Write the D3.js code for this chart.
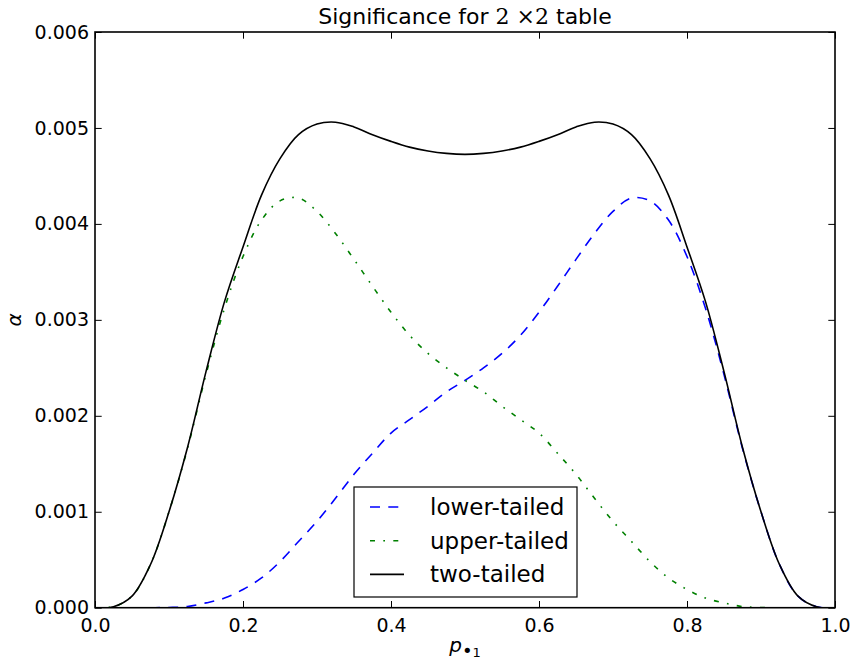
<!DOCTYPE html>
<html>
<head>
<meta charset="utf-8">
<script src="https://cdn.jsdelivr.net/npm/d3@7"></script>
<style>
  body { margin: 0; background: #fff; }
  svg { display: block; }
  text { font-family: "DejaVu Sans", sans-serif; fill: #000; }
</style>
</head>
<body>
<div id="chart"></div>
<script>
// datos (alfa en unidades de 1e-3)
var pValues = [0, 0.025, 0.05, 0.075, 0.1, 0.125, 0.15, 0.175, 0.2, 0.225,
  0.25, 0.275, 0.3, 0.325, 0.35, 0.375, 0.4, 0.425, 0.45, 0.475,
  0.5, 0.525, 0.55, 0.575, 0.6, 0.625, 0.65, 0.675, 0.7, 0.725,
  0.75, 0.775, 0.8, 0.825, 0.85, 0.875, 0.9, 0.925, 0.95, 0.975, 1];

var upperTailed = [0, 0.01, 0.12, 0.45, 1.00, 1.66, 2.43, 3.12, 3.66, 4.04,
  4.24, 4.27, 4.13, 3.90, 3.63, 3.35, 3.08, 2.84, 2.65, 2.50,
  2.37, 2.25, 2.10, 1.96, 1.82, 1.61, 1.39, 1.14, 0.90, 0.69,
  0.48, 0.31, 0.19, 0.10, 0.05, 0.012, 0.002, 0, 0, 0, 0];

var lowerTailed = [0, 0, 0, 0, 0.002, 0.012, 0.05, 0.10, 0.19, 0.31,
  0.48, 0.69, 0.90, 1.14, 1.39, 1.61, 1.82, 1.96, 2.10, 2.25,
  2.37, 2.50, 2.65, 2.84, 3.08, 3.35, 3.63, 3.90, 4.13, 4.27,
  4.24, 4.04, 3.66, 3.12, 2.43, 1.66, 1.00, 0.45, 0.12, 0.01, 0];

var twoTailed = [0, 0.01, 0.12, 0.45, 1.00, 1.67, 2.46, 3.19, 3.76, 4.30,
  4.68, 4.93, 5.04, 5.06, 5.01, 4.93, 4.86, 4.80, 4.76, 4.735,
  4.725, 4.735, 4.76, 4.80, 4.86, 4.93, 5.01, 5.06, 5.04, 4.93,
  4.68, 4.30, 3.76, 3.19, 2.46, 1.67, 1.00, 0.45, 0.12, 0.01, 0];

var xTicks = [0, 0.2, 0.4, 0.6, 0.8, 1.0];
var yTicks = [0, 0.001, 0.002, 0.003, 0.004, 0.005, 0.006];

var seriesNames = ['lower-tailed', 'upper-tailed', 'two-tailed'];

// lienzo
var width = 855
var height = 666
var left = 95
var top_ = 32
var plotw = 740
var ploth = 575.7

var svg = d3.select('#chart')
    .append('svg')
    .attr('width', width)
    .attr('height', height);

var scaleX = d3.scaleLinear().domain([0, 1]).range([left, left + plotw]);
var scaleY = d3.scaleLinear().domain([0, 0.006]).range([top_ + ploth, top_]);

var series = [
  {name: seriesNames[0], values: lowerTailed, color: '#0000ff', dash: '10,8.3'},
  {name: seriesNames[1], values: upperTailed, color: '#008000', dash: '5,8.3,1.7,8.3'},
  {name: seriesNames[2], values: twoTailed, color: '#000000', dash: null}
];

svg.append('clipPath').attr('id', 'clip')
    .append('rect')
    .attr('x', left).attr('y', top_)
    .attr('width', plotw).attr('height', ploth);

var line = d3.line()
    .x((d) => scaleX(d[0]))
    .y((d) => scaleY(d[1] / 1000))
    .curve(d3.curveCatmullRom.alpha(0.5));

var lines = svg.append('g').attr('clip-path', 'url(#clip)');
series.forEach((s) => {
    lines.append('path')
        .datum(pValues.map((p, i) => [p, s.values[i]]))
        .attr('d', line)
        .attr('fill', 'none')
        .attr('stroke', s.color)
        .attr('stroke-width', 1.6)
        .attr('stroke-dasharray', s.dash);
});

// ejes con ticks hacia dentro en los cuatro lados
var fmtX = d3.format('.1f');
var fmtY = d3.format('.3f');

var xBottom = d3.axisBottom(scaleX).tickValues(xTicks).tickSizeInner(-6.7).tickSizeOuter(0).tickPadding(10).tickFormat(fmtX);
var xTop = d3.axisTop(scaleX).tickValues(xTicks).tickSizeInner(-6.7).tickSizeOuter(0).tickFormat('');
var yLeft = d3.axisLeft(scaleY).tickValues(yTicks).tickSizeInner(-6.7).tickSizeOuter(0).tickPadding(6).tickFormat(fmtY);
var yRight = d3.axisRight(scaleY).tickValues(yTicks).tickSizeInner(-6.7).tickSizeOuter(0).tickFormat('');

var gx = svg.append('g').attr('transform', 'translate(0,' + (top_ + ploth) + ')').call(xBottom);
svg.append('g').attr('transform', 'translate(0,' + top_ + ')').call(xTop);
var gy = svg.append('g').attr('transform', 'translate(' + left + ',0)').call(yLeft);
svg.append('g').attr('transform', 'translate(' + (left + plotw) + ',0)').call(yRight);

svg.selectAll('.domain').remove();
svg.selectAll('.tick line').attr('stroke', '#000').attr('stroke-width', 1);
svg.selectAll('.tick text')
    .attr('font-family', '"DejaVu Sans", sans-serif')
    .attr('font-size', '19px')
    .attr('fill', '#000');
gx.selectAll('.tick text').attr('dy', '0.75em');

// marco
svg.append('rect')
    .attr('x', left).attr('y', top_)
    .attr('width', plotw).attr('height', ploth)
    .attr('fill', 'none')
    .attr('stroke', '#000')
    .attr('stroke-width', 1.6);

// titulo
var title = svg.append('text')
    .attr('x', left + plotw / 2)
    .attr('y', 24)
    .attr('text-anchor', 'middle')
    .attr('font-size', '22px');
title.append('tspan').text('Significance for ');
title.append('tspan').attr('font-family', '"DejaVu Serif", serif').text('2 \u00d72');
title.append('tspan').text(' table');

// etiqueta eje x
var xl = svg.append('text')
    .attr('x', left + plotw / 2)
    .attr('y', 652)
    .attr('text-anchor', 'middle')
    .attr('font-family', '"DejaVu Serif", serif')
    .attr('font-size', '20px');
xl.append('tspan').attr('font-style', 'italic').text('p');
xl.append('tspan').attr('dy', 5).attr('font-size', '18px').text('\u2022');
xl.append('tspan').attr('font-size', '13px').text('1');

// etiqueta eje y
svg.append('text')
    .attr('transform', 'translate(21,' + (top_ + ploth / 2) + ') rotate(-90)')
    .attr('text-anchor', 'middle')
    .attr('font-family', '"DejaVu Serif", serif')
    .attr('font-style', 'italic')
    .attr('font-size', '20px')
    .text('\u03b1');

// leyenda
var legend = svg.append('g').attr('transform', 'translate(354,487)');
legend.append('rect')
    .attr('width', 223).attr('height', 110)
    .attr('fill', '#fff')
    .attr('stroke', '#000')
    .attr('stroke-width', 1.2);

series.forEach((s, i) => {
    var yy = 20 + i * 33.7;
    legend.append('line')
        .attr('x1', 16).attr('x2', 50)
        .attr('y1', yy).attr('y2', yy)
        .attr('stroke', s.color)
        .attr('stroke-width', 1.6)
        .attr('stroke-dasharray', s.dash);
    legend.append('text')
        .attr('x', 76)
        .attr('y', yy)
        .attr('dy', '0.35em')
        .attr('font-size', '23px')
        .text(s.name);
});
</script>
</body>
</html>
